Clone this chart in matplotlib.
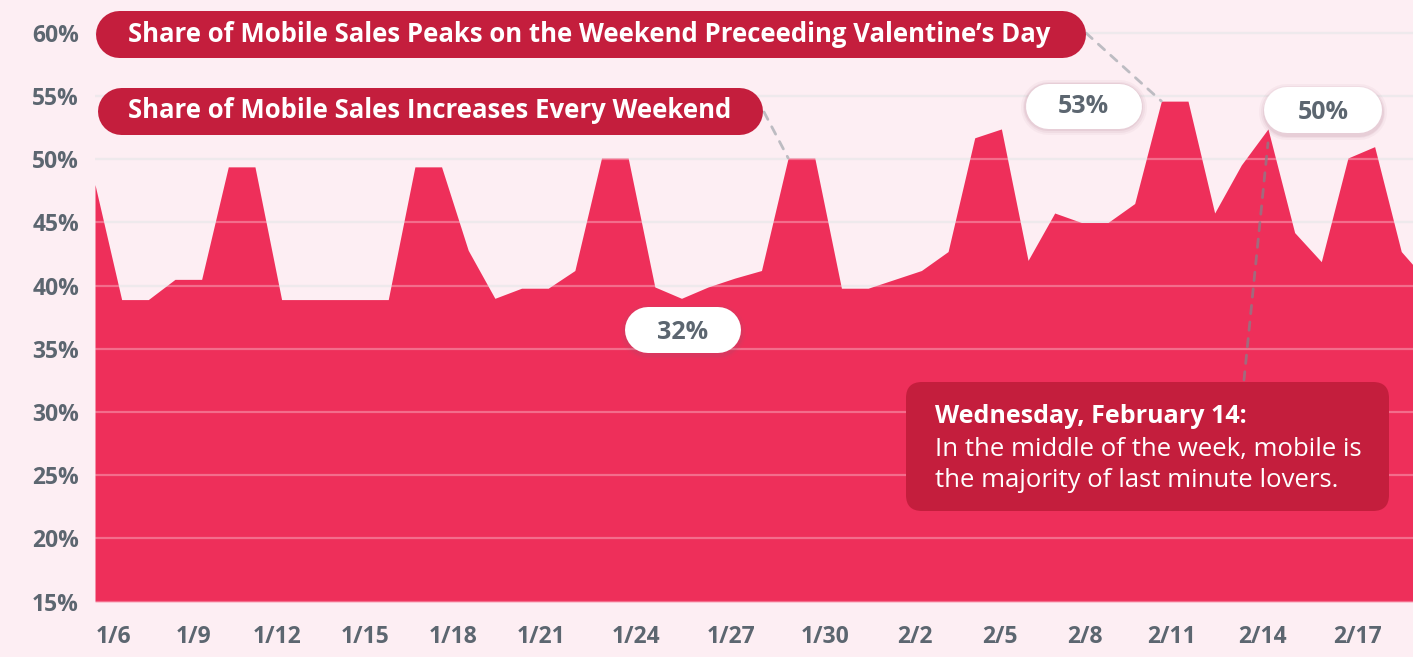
import numpy as np
import matplotlib.pyplot as plt
from matplotlib.patches import FancyBboxPatch
from matplotlib.lines import Line2D
from matplotlib.transforms import IdentityTransform

plt.rcParams['font.family'] = ['Open Sans', 'DejaVu Sans']

# share of mobile sales per day, Jan 1 .. Feb 20 (percent)
mobile_share = [48.0, 38.9, 38.9, 40.5, 40.5, 49.4, 49.4, 38.9, 38.9, 38.9,
                38.9, 38.9, 49.4, 49.4, 42.8, 39.0, 39.8, 39.8, 41.2, 50.1,
                50.1, 39.9, 39.0, 39.9, 40.6, 41.2, 50.1, 50.1, 39.8, 39.8,
                40.5, 41.2, 42.7, 51.7, 52.4, 42.0, 45.75, 45.0, 45.0, 46.5,
                54.6, 54.6, 45.75, 49.55, 52.4, 44.2, 41.9, 50.1, 51.0, 42.7,
                40.3]
date_labels = ['1/6', '1/9', '1/12', '1/15', '1/18', '1/21', '1/24', '1/27',
               '1/30', '2/2', '2/5', '2/8', '2/11', '2/14', '2/17']
# where the labels sit along the day axis in the original graphic
label_pos = [0.68, 3.68, 6.83, 10.12, 13.42, 16.73, 20.29, 23.85, 27.38,
             30.76, 33.95, 37.13, 40.40, 43.81, 47.37]
y_ticks = [15, 20, 25, 30, 35, 40, 45, 50, 55, 60]

headline_1 = 'Share of Mobile Sales Peaks on the Weekend Preceeding Valentine\u2019s Day'
headline_2 = 'Share of Mobile Sales Increases Every Weekend'
callouts = ['53%', '50%', '32%']
note_title = 'Wednesday, February 14:'
note_lines = ['In the middle of the week, mobile is',
              'the majority of last minute lovers.']

BG = '#FDEEF3'
FILL = '#EE2F5A'
DARK = '#C41E3D'
GREY = '#5C6670'
DASH = '#BDBCC2'

W, H = 1413, 657
fig = plt.figure(figsize=(W / 100, H / 100), dpi=100, facecolor=BG)
ax = fig.add_axes([95 / W, 55.3 / H, 1318 / W, 601.7 / H])
ax.set_facecolor(BG)

days = np.arange(len(mobile_share))
ax.fill_between(days, 15, mobile_share, color=FILL, lw=0, zorder=2)

for v in y_ticks:
    ax.axhline(v, color='#E8E0E5', lw=1.6, zorder=1)
    ax.axhline(v, color='white', lw=1.6, alpha=0.3, zorder=3)

ax.set_xlim(0, 49.44)
ax.set_ylim(15, 62.6)
ax.set_yticks(y_ticks)
ax.set_yticklabels([f'{v}%' for v in y_ticks])
ax.set_xticks(label_pos)
ax.set_xticklabels(date_labels)
ax.tick_params(length=0, labelsize=16.5, labelcolor=GREY)
ax.tick_params(axis='y', pad=11.5)
ax.tick_params(axis='x', pad=17)
for lab in ax.get_xticklabels() + ax.get_yticklabels():
    lab.set_fontweight('bold')
for s in ax.spines.values():
    s.set_visible(False)

# dashed leader lines from the labels to the peaks
dash = dict(arrowstyle='-', color=DASH, lw=2, linestyle=(0, (3, 3)),
            shrinkA=0, shrinkB=0)
ax.annotate('', xy=(40, mobile_share[40]), xytext=(1086, H - 33),
            textcoords='figure pixels', arrowprops=dash, zorder=4)
ax.annotate('', xy=(26, mobile_share[26]), xytext=(764, H - 112),
            textcoords='figure pixels', arrowprops=dash, zorder=4)
ax.annotate('', xy=(44, mobile_share[44] - 1.1), xytext=(1244, H - 380),
            textcoords='figure pixels', zorder=4,
            arrowprops=dict(dash, color='#8E7A86', alpha=0.8))


def pill(x0, y0, x1, y1, color, shadow=False):
    # a fat line with round caps gives a true pill shape
    h = y1 - y0
    yc = H - (y0 + y1) / 2
    xs = [x0 + h / 2, x1 - h / 2]
    if shadow:
        for grow, a in [(5, 0.05), (3, 0.07), (1.5, 0.1)]:
            fig.add_artist(Line2D(xs, [yc - 1.5, yc - 1.5], lw=(h + 2 * grow) * 0.72,
                                  color='#9a5a70', alpha=a, solid_capstyle='round',
                                  transform=IdentityTransform()))
    fig.add_artist(Line2D(xs, [yc, yc], lw=h * 0.72, color=color,
                          solid_capstyle='round', transform=IdentityTransform()))


def label(x, y, s, **kw):
    fig.text(x, H - y, s, transform=IdentityTransform(), **kw)


pill(95, 10, 1085, 57, DARK)
label(128, 42, headline_1, color='white', fontsize=18.5, fontweight='bold', va='baseline')
pill(97, 87, 762, 134, DARK)
label(128, 118, headline_2, color='white', fontsize=18.5, fontweight='bold', va='baseline')

for (x0, y0, x1, y1), txt, base in zip([(1025, 83, 1141, 128), (1264, 87, 1382, 133),
                                        (625, 307, 741, 353)],
                                       callouts, [113, 119, 339]):
    pill(x0, y0, x1, y1, 'white', shadow=True)
    label((x0 + x1) / 2, base, txt, color=GREY, fontsize=18, fontweight='bold',
          ha='center', va='baseline')

fig.add_artist(FancyBboxPatch((906, H - 511), 483, 129,
                              boxstyle='round,pad=0,rounding_size=16',
                              transform=IdentityTransform(), fc=DARK, ec='none'))
label(935, 423, note_title, color='white', fontsize=18, fontweight='bold', va='baseline')
for line, base in zip(note_lines, [456, 487]):
    label(935, base, line, color='white', fontsize=18.5, va='baseline')

fig.savefig('out.png', dpi=100, facecolor=BG)
